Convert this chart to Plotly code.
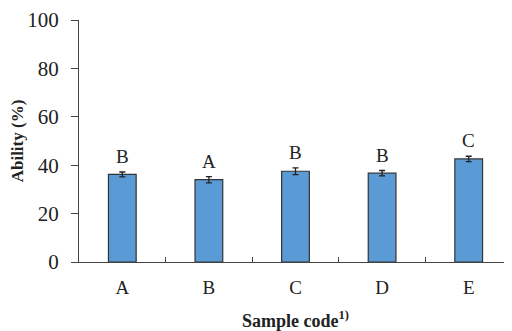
import plotly.graph_objects as go

categories = ["A", "B", "C", "D", "E"]
values = [36.2, 34.0, 37.5, 36.7, 42.6]
errors = [1.0, 1.3, 1.4, 1.1, 1.1]
letters = ["B", "A", "B", "B", "C"]

fig = go.Figure()
fig.add_trace(go.Bar(
    x=categories, y=values, width=0.32,
    marker=dict(color="#5B9BD5", line=dict(color="#333333", width=1.2)),
    error_y=dict(type="data", array=errors, color="#222222", thickness=1.3, width=3),
))
for c, v, e, t in zip(categories, values, errors, letters):
    fig.add_annotation(x=c, y=v + e, text=t, showarrow=False, yanchor="bottom",
                       yshift=3, font=dict(family="Liberation Serif", size=19, color="#222"))

fig.update_layout(
    width=504, height=323,
    margin=dict(l=71, r=0, t=12, b=69),
    paper_bgcolor="white", plot_bgcolor="white",
    showlegend=False,
    font=dict(family="Liberation Serif", color="#222"),
    xaxis=dict(
        range=[-0.5, 4.5], showline=True, linecolor="#444", linewidth=1.2,
        ticks="inside", tickson="boundaries", ticklen=5, tickcolor="#444",
        tickfont=dict(size=19), showgrid=False, automargin=False,
        ticklabelstandoff=8,
        title=dict(text="<b>Sample code<sup>1)</sup></b>", font=dict(size=18), standoff=20),
    ),
    yaxis=dict(
        range=[0, 100], dtick=20, showline=True, linecolor="#444", linewidth=1.2,
        ticks="outside", ticklen=7, tickcolor="#444", tickfont=dict(size=21),
        showgrid=False, zeroline=False, automargin=False, ticklabelstandoff=8,
        title=dict(text="<b>Ability (%)</b>", font=dict(size=17), standoff=10),
    ),
)
fig.write_html("out.html")
